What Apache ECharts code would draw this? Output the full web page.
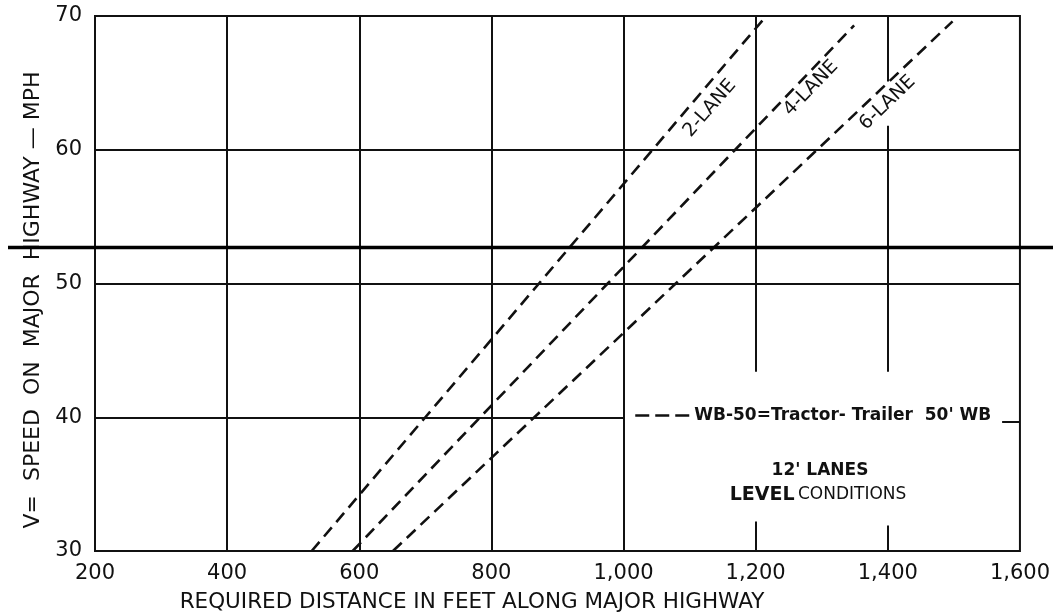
<!DOCTYPE html>
<html>
<head>
<meta charset="utf-8">
<script src="https://cdn.jsdelivr.net/npm/echarts@6/dist/echarts.min.js"></script>
<style>
  html, body { margin: 0; background: #fff; }
  #main { width: 1053px; height: 615px; }
</style>
</head>
<body>
<div id="main"></div>
<script>
// required distance (ft) for each speed (mph)
var lane2Speed = [30, 40, 50, 60, 70];
var lane2Dist  = [528, 700, 872, 1044, 1216];
var lane4Speed = [30, 40, 50, 60, 69.3];
var lane4Dist  = [590, 783, 976, 1169, 1349];
var lane6Speed = [30, 40, 50, 60, 69.6];
var lane6Dist  = [651, 865, 1079, 1293, 1498];

var laneNames  = ['2-LANE', '4-LANE', '6-LANE'];
var labelSpeed = [63.1, 64.6, 63.5];

var xTicks = [200, 400, 600, 800, 1000, 1200, 1400, 1600];
var yTicks = [30, 40, 50, 60, 70];

// hand drawn grid: [x, yFrom, yTo] and [y, xFrom, xTo]
var vGrid = [[400, 30, 70], [600, 30, 70], [800, 30, 70], [1000, 30, 70],
             [1200, 43.4, 70], [1200, 30, 32.2],
             [1400, 65.1, 70], [1400, 43.4, 61.8], [1400, 30, 31.9]];
var hGrid = [[60, 200, 1600], [50, 200, 1600], [40, 200, 1000], [39.7, 1573, 1600]];
var foldSpeed = 52.7;

var legendName = "WB-50=Tractor- Trailer  50' WB";
var font = '"DejaVu Sans", sans-serif';
var ink = '#111';

function pairs(xs, ys) {
  return xs.map(function (x, i) { return [x, ys[i]]; });
}
function distAt(xs, ys, s) {
  for (var i = 0; i < ys.length - 1; i++) {
    if (s >= ys[i] && s <= ys[i + 1]) {
      return xs[i] + (xs[i + 1] - xs[i]) * (s - ys[i]) / (ys[i + 1] - ys[i]);
    }
  }
  return xs[xs.length - 1];
}

var gridSegs = [];
vGrid.forEach(function (g) { gridSegs.push({ coords: [[g[0], g[1]], [g[0], g[2]]] }); });
hGrid.forEach(function (g) { gridSegs.push({ coords: [[g[1], g[0]], [g[2], g[0]]] }); });

var lanes = [[lane2Dist, lane2Speed], [lane4Dist, lane4Speed], [lane6Dist, lane6Speed]];
var labelShift = [22, 17, 21];   // px to the right of the line
var labelRot = [49, 46, 44];

var laneSeries = lanes.map(function (l, i) {
  var a = labelRot[i] * Math.PI / 180;
  return {
    name: legendName,
    type: 'line',
    data: pairs(l[0], l[1]),
    symbol: 'none',
    silent: true,
    lineStyle: { color: ink, width: 2.6, type: [12, 7] },
    markPoint: {
      symbol: 'circle',
      symbolSize: 0,
      silent: true,
      data: [{ coord: [distAt(l[0], l[1], labelSpeed[i]), labelSpeed[i]] }],
      label: {
        show: true,
        position: 'inside',
        formatter: laneNames[i],
        rotate: labelRot[i],
        // offset turns with the label, so undo the rotation
        offset: [labelShift[i] * Math.cos(a), labelShift[i] * Math.sin(a)],
        fontSize: 19,
        fontFamily: font,
        color: ink
      }
    }
  };
});

var chart = echarts.init(document.getElementById('main'));
var option = {
  backgroundColor: '#fff',
  animation: false,
  grid: { left: 95, right: 33, top: 16, bottom: 64, show: true, borderColor: ink, borderWidth: 2 },
  xAxis: {
    type: 'value', min: xTicks[0], max: xTicks[xTicks.length - 1], interval: 200,
    axisLine: { show: false }, axisTick: { show: false }, splitLine: { show: false },
    axisLabel: {
      margin: 12, fontSize: 21, fontFamily: font, color: ink,
      formatter: function (v) { return v.toLocaleString('en-US'); }
    }
  },
  yAxis: {
    type: 'value', min: yTicks[0], max: yTicks[yTicks.length - 1], interval: 10,
    axisLine: { show: false }, axisTick: { show: false }, splitLine: { show: false },
    axisLabel: { margin: 13, fontSize: 21, fontFamily: font, color: ink }
  },
  legend: {
    data: [legendName],
    left: 629, top: 402,
    itemWidth: 54, itemHeight: 18, itemGap: 0,
    itemStyle: { opacity: 0 },
    lineStyle: { type: [14, 6], width: 2.5, color: ink },
    selectedMode: false,
    textStyle: { fontSize: 17, fontWeight: 'bold', fontFamily: font, color: ink }
  },
  series: [{
    type: 'lines',
    coordinateSystem: 'cartesian2d',
    polyline: false,
    silent: true,
    lineStyle: { color: ink, width: 2, opacity: 1 },
    data: gridSegs
  }].concat(laneSeries)
};
chart.setOption(option);

var foldY = chart.convertToPixel({ gridIndex: 0 }, [xTicks[0], foldSpeed])[1];
chart.setOption({
  graphic: [
    { type: 'line', z: 100, shape: { x1: 8, y1: foldY, x2: 1053, y2: foldY },
      style: { stroke: '#000', lineWidth: 3.5 } },
    { type: 'text', x: 33, y: 300, rotation: Math.PI / 2,
      style: { text: 'V=  SPEED  ON  MAJOR  HIGHWAY — MPH', font: '22px ' + font, fill: ink,
               align: 'center', verticalAlign: 'middle' } },
    { type: 'text', x: 472, y: 602,
      style: { text: 'REQUIRED DISTANCE IN FEET ALONG MAJOR HIGHWAY', font: '21.5px ' + font, fill: ink,
               align: 'center', verticalAlign: 'middle' } },
    { type: 'text', x: 820, y: 471,
      style: { text: "12' LANES", font: 'bold 17px ' + font, fill: ink,
               align: 'center', verticalAlign: 'middle' } },
    { type: 'text', x: 818, y: 495,
      style: { text: '{a|LEVEL} {b|CONDITIONS}', align: 'center', verticalAlign: 'middle',
               rich: { a: { font: 'bold 19px ' + font, fill: ink, color: ink },
                       b: { font: '17px ' + font, fill: ink, color: ink } } } }
  ]
});
</script>
</body>
</html>
